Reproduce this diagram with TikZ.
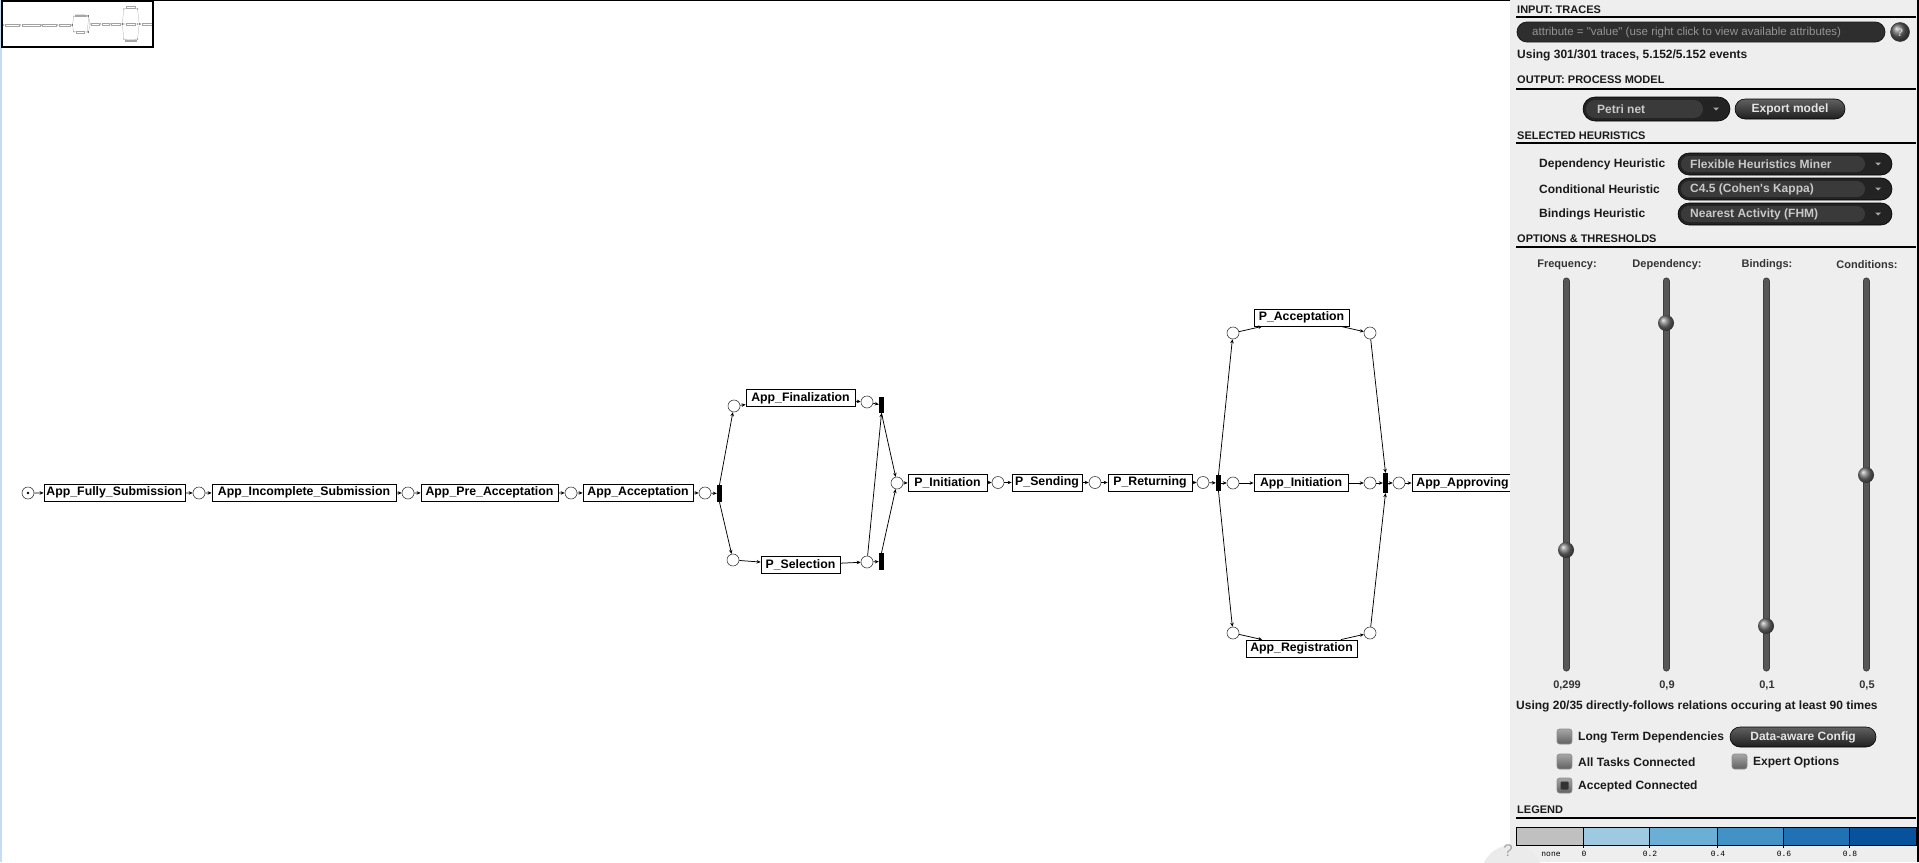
\documentclass[tikz,border=0pt]{standalone}
\usepackage{fontspec}
\newfontfamily\uifont{Liberation Sans}
\newfontfamily\uimono{Liberation Mono}
\usetikzlibrary{arrows.meta}
\newcommand\fsz[1]{\fontsize{#1}{#1}\selectfont}
\definecolor{panelbg}{HTML}{EEEEEE}
\definecolor{uitext}{HTML}{1A1A1A}
\definecolor{pilldark}{HTML}{232323}
\definecolor{pillin}{HTML}{3A3A3A}
\definecolor{pilltext}{HTML}{C8C8C8}
\definecolor{track}{HTML}{575757}
\definecolor{edgeblue}{HTML}{C5DCF5}
\definecolor{lg0}{HTML}{C0C0C0}
\definecolor{lg1}{HTML}{9ECAE1}
\definecolor{lg2}{HTML}{6BAED6}
\definecolor{lg3}{HTML}{4292C6}
\definecolor{lg4}{HTML}{2171B5}
\definecolor{lg5}{HTML}{08519C}
\tikzset{
  place/.style={circle,draw=black!75,line width=0.6pt,minimum size=12pt,inner sep=0pt,fill=white},
  trans/.style={rectangle,fill=black,draw=none,minimum width=5pt,minimum height=17pt,inner sep=0pt},
  task/.style={rectangle,draw,line width=0.8pt,fill=white,font=\uifont\bfseries\fsz{12.3},inner xsep=0pt,inner ysep=0pt,minimum height=17pt},
  arc/.style={draw,line width=0.75pt,-{Stealth[length=4pt,width=3.5pt]}},
  hdr/.style={anchor=west,inner sep=0pt,font=\uifont\bfseries\fsz{11},text=uitext},
  uilbl/.style={anchor=west,inner sep=0pt,font=\uifont\bfseries\fsz{12},text=uitext},
  sldlbl/.style={inner sep=0pt,font=\uifont\bfseries\fsz{11},text=black!80},
  pilltxt/.style={anchor=west,inner sep=0pt,font=\uifont\bfseries\fsz{12},text=pilltext},
  btntxt/.style={inner sep=0pt,font=\uifont\bfseries\fsz{12},text=white!90!black},
  hline/.style={line width=1.6pt,black},
  knob/.style={circle,inner sep=0pt,minimum size=16pt,ball color=black!55},
  chk/.style={draw=black!45,line width=0.6pt,rounded corners=2.5pt,top color=black!35,bottom color=black!62},
  lgtxt/.style={inner sep=0pt,font=\uimono\fsz{8},text=black},
}
\newcommand\petrinet{%
  \node[place] (p0) at (28,493) {};
  \fill (p0) circle (1.3);
  \node[task,minimum width=141pt] (AFS) at (114.5,492.5) {App\_Fully\_Submission};
  \node[place] (p1) at (199,493) {};
  \node[task,minimum width=184pt] (AIS) at (304,492.5) {App\_Incomplete\_Submission};
  \node[place] (p2) at (408,493) {};
  \node[task,minimum width=137pt] (APA) at (489.5,492.5) {App\_Pre\_Acceptation};
  \node[place] (p3) at (571,493) {};
  \node[task,minimum width=110pt] (AA) at (638,492.5) {App\_Acceptation};
  \node[place] (p4) at (705,493) {};
  \node[trans] (t1) at (719.5,493.5) {};
  \node[place] (p5) at (734,406) {};
  \node[task,minimum width=109pt] (AF) at (800.5,398) {App\_Finalization};
  \node[place] (p6) at (867,402) {};
  \node[trans,minimum height=16pt] (t2) at (881.5,405) {};
  \node[place] (p7) at (733,560) {};
  \node[task,minimum width=79pt] (PS) at (800.5,565) {P\_Selection};
  \node[place] (p8) at (867,562) {};
  \node[trans] (t3) at (881.5,561.5) {};
  \node[place] (p9) at (897,483) {};
  \node[task,minimum width=79pt] (PI) at (947.5,482.5) {P\_Initiation};
  \node[place] (p10) at (998,482.5) {};
  \node[task,minimum width=70pt] (PSn) at (1047,482.5) {P\_Sending};
  \node[place] (p11) at (1095,482.5) {};
  \node[task,minimum width=84pt] (PR) at (1150,482.5) {P\_Returning};
  \node[place] (p12) at (1203,482.5) {};
  \node[trans,minimum height=16pt] (t4) at (1218.5,483) {};
  \node[place] (p13) at (1233,333) {};
  \node[task,minimum width=95pt] (PAc) at (1301.5,317.5) {P\_Acceptation};
  \node[place] (p16) at (1370,333) {};
  \node[place] (p14) at (1233,483) {};
  \node[task,minimum width=94pt] (AI) at (1301,483) {App\_Initiation};
  \node[place] (p17) at (1370,483) {};
  \node[place] (p15) at (1233,633) {};
  \node[task,minimum width=111pt] (AR) at (1301.5,648.5) {App\_Registration};
  \node[place] (p18) at (1370,633) {};
  \node[trans,minimum height=20pt] (t5) at (1385.5,483) {};
  \node[place] (p19) at (1399,483) {};
  \node[task,minimum width=101pt] (AAp) at (1462.5,483) {App\_Approving};
  \coordinate (pend) at (1517,483);
  \draw[arc] (p0) -- (AFS);
  \draw[arc] (AFS) -- (p1);
  \draw[arc] (p1) -- (AIS);
  \draw[arc] (AIS) -- (p2);
  \draw[arc] (p2) -- (APA);
  \draw[arc] (APA) -- (p3);
  \draw[arc] (p3) -- (AA);
  \draw[arc] (AA) -- (p4);
  \draw[arc] (p4) -- (t1);
  \draw[arc] (t1.north) -- (p5);
  \draw[arc] (t1.south) -- (p7);
  \draw[arc] (p5) -- (AF);
  \draw[arc] (AF) -- (p6);
  \draw[arc] (p6) -- (t2);
  \draw[arc] (p7) -- (PS);
  \draw[arc] (PS) -- (p8);
  \draw[arc] (p8) -- (t3);
  \draw[arc] (p8) -- (t2.south);
  \draw[arc] (t2.south) -- (p9);
  \draw[arc] (t3.north) -- (p9);
  \draw[arc] (p9) -- (PI);
  \draw[arc] (PI) -- (p10);
  \draw[arc] (p10) -- (PSn);
  \draw[arc] (PSn) -- (p11);
  \draw[arc] (p11) -- (PR);
  \draw[arc] (PR) -- (p12);
  \draw[arc] (p12) -- (t4);
  \draw[arc] (t4.north) -- (p13);
  \draw[arc] (t4) -- (p14);
  \draw[arc] (t4.south) -- (p15);
  \draw[arc] (p13) -- (PAc);
  \draw[arc] (PAc) -- (p16);
  \draw[arc] (p16) -- (t5.north);
  \draw[arc] (p14) -- (AI);
  \draw[arc] (AI) -- (p17);
  \draw[arc] (p17) -- (t5);
  \draw[arc] (p15) -- (AR);
  \draw[arc] (AR) -- (p18);
  \draw[arc] (p18) -- (t5.south);
  \draw[arc] (t5) -- (p19);
  \draw[arc] (p19) -- (AAp);
  \draw[arc] (AAp) -- (pend);
}
\begin{document}
\begin{tikzpicture}[x=1pt,y=-1pt]
\useasboundingbox (0,0) rectangle (1919,862);
\fill[white] (0,0) rectangle (1919,862);
% canvas borders
\fill[edgeblue] (0,0) rectangle (1.6,862);
\fill[edgeblue] (0,0) rectangle (93,1.2);
\fill[black] (93,0) rectangle (1510,1.2);
% main net
\petrinet
% minimap
\begin{scope}[shift={(0.5,-24.3)},scale=0.1,transform shape,name prefix=mini-,
  place/.append style={draw=black!40,line width=0.25pt},
  task/.append style={draw=black!35,line width=0.25pt,text=black!40},
  trans/.append style={fill=black!55},
  arc/.style={draw=black!35,line width=0.25pt}]
  \petrinet
\end{scope}
\draw[black,line width=1.2pt] (2,1) rectangle (153,47);
% ===== panel =====
\fill[panelbg] (1510,0) rectangle (1917,862);
\fill[black] (1917,0) rectangle (1919,862);
% input traces
\node[hdr] (hIn) at (1517,10) {INPUT: TRACES};
\draw[hline] (1516,17) -- (1916,17);
\draw[draw=black!90,fill=pillin!80!black,line width=0.8pt,rounded corners=10pt] (1517,22) rectangle (1885,42);
\node[anchor=west,inner sep=0pt,font=\uifont\fsz{11.5},text=black!42] (srch) at (1532,32.5) {attribute = "value" (use right click to view available attributes)};
\node[circle,inner sep=0pt,minimum size=19pt,draw=black!80,line width=0.5pt,ball color=black!62] (help) at (1900,32) {};
\node[inner sep=0pt,font=\uifont\bfseries\fsz{11},text=white!80!black] (helpq) at (1900,32.5) {?};
\node[uilbl] (uTr) at (1517,55) {Using 301/301 traces, 5.152/5.152 events};
% output
\node[hdr] (hOut) at (1517,80) {OUTPUT: PROCESS MODEL};
\draw[hline] (1516,89) -- (1916,89);
\draw[fill=pilldark,draw=black,line width=0.6pt,rounded corners=12pt] (1583,97) rectangle (1730,121);
\fill[pillin,rounded corners=9pt] (1586,100) rectangle (1703,118);
\node[pilltxt] (petri) at (1597,109.5) {Petri net};
\fill[black!35] (1713,107.5) -- (1719,107.5) -- (1716,110.5) -- cycle;
\draw[draw=black,line width=0.6pt,rounded corners=10pt,top color=black!62,bottom color=black!88] (1735,99) rectangle (1845,119);
\node[btntxt] (exp) at (1790,109.5) {Export model};
% heuristics
\node[hdr] (hSel) at (1517,136) {SELECTED HEURISTICS};
\draw[hline] (1516,143) -- (1916,143);
\foreach \yy/\lab/\val [count=\i] in {164/Dependency Heuristic/Flexible Heuristics Miner,
    189/Conditional Heuristic/C4.5 (Cohen's Kappa),
    214/Bindings Heuristic/Nearest Activity (FHM)}{
  \node[uilbl] (hl\i) at (1539,\yy) {\lab};
  \draw[fill=pilldark,draw=black,line width=0.6pt,rounded corners=11pt] (1678,\yy-11) rectangle (1892,\yy+11);
  \fill[pillin,rounded corners=8pt] (1681,\yy-8) rectangle (1865,\yy+8);
  \node[pilltxt] (hv\i) at (1690,\yy+0.5) {\val};
  \fill[black!35] (1875,\yy-1.5) -- (1881,\yy-1.5) -- (1878,\yy+1.5) -- cycle;
}
% options
\node[hdr] (hOpt) at (1517,239) {OPTIONS \& THRESHOLDS};
\draw[hline] (1516,247) -- (1916,247);
\foreach \xx/\lab/\kn/\val [count=\i] in {1566/Frequency:/550/{0,299},1666/Dependency:/323/{0,9},1766/Bindings:/626/{0,1},1866/Conditions:/475/{0,5}}{
  \node[sldlbl] (sl\i) at (\xx+1,265) {\lab};
  \draw[track!70!black,line width=7pt,line cap=round] (\xx,281) -- (\xx,668);
  \draw[track,line width=5pt,line cap=round] (\xx,281) -- (\xx,668);
  \node[knob] (kn\i) at (\xx,\kn) {};
  \node[sldlbl] (sv\i) at (\xx+1,686) {\val};
}
\node[uilbl] (uRel) at (1516,706) {Using 20/35 directly-follows relations occuring at least 90 times};
\draw[chk] (1557,729) rectangle (1572,744);
\node[uilbl] (cLT) at (1578,737) {Long Term Dependencies};
\draw[chk] (1557,754) rectangle (1572,769);
\node[uilbl] (cAT) at (1578,762) {All Tasks Connected};
\draw[chk] (1557,778) rectangle (1572,793);
\fill[black!80,rounded corners=1pt] (1560.5,781.5) rectangle (1568.5,789.5);
\node[uilbl] (cAC) at (1578,786) {Accepted Connected};
\draw[chk] (1732,754) rectangle (1747,769);
\node[uilbl] (cEO) at (1753,762) {Expert Options};
\draw[draw=black,line width=0.6pt,rounded corners=10pt,top color=black!62,bottom color=black!88] (1730,727) rectangle (1876,747);
\node[btntxt] (dac) at (1803,737.5) {Data-aware Config};
% help bubble
\begin{scope}
\clip (0,0) rectangle (1919,862);
\fill[black!8] (1512,876) circle (31);
\end{scope}
\node[inner sep=0pt,font=\uifont\fsz{17},text=black!35] (bq) at (1508,851) {?};
% legend
\node[hdr] (hLeg) at (1517,810) {LEGEND};
\draw[hline] (1516,818) -- (1916,818);
\foreach \xa/\xb/\cc in {1516/1583/lg0,1583/1649/lg1,1649/1717/lg2,1717/1783/lg3,1783/1849/lg4,1849/1916/lg5}{
  \fill[\cc] (\xa,827) rectangle (\xb,845);
}
\draw[black,line width=0.7pt] (1516,827) rectangle (1916,845);
\foreach \xx in {1583,1649,1717,1783,1849}{
  \draw[black,line width=0.7pt] (\xx,827) -- (\xx,848);
}
\node[lgtxt] (l0) at (1551,854) {none};
\node[lgtxt] (l1) at (1584,854) {0};
\node[lgtxt] (l2) at (1650,854) {0.2};
\node[lgtxt] (l3) at (1718,854) {0.4};
\node[lgtxt] (l4) at (1784,854) {0.6};
\node[lgtxt] (l5) at (1850,854) {0.8};
\end{tikzpicture}
\end{document}
